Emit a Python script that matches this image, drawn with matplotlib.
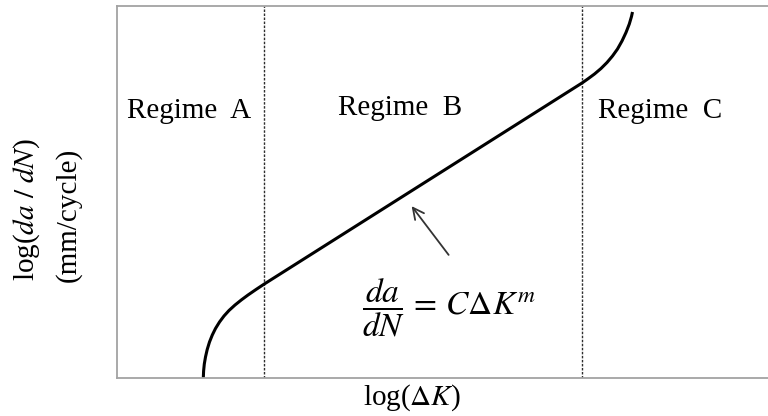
import matplotlib
matplotlib.use("Agg")
import matplotlib.pyplot as plt

plt.rcParams['font.family'] = ['Liberation Serif', 'DejaVu Serif']
plt.rcParams['mathtext.fontset'] = 'stix'

# Schematic crack-growth curve: log(ΔK) vs log(da/dN), arbitrary units 0..10
log_dk = [1.3257, 1.3303, 1.3410, 1.3594, 1.3856, 1.4209, 1.4639, 1.5131,
          1.5745, 1.6436, 1.7204, 1.8126, 1.9124, 2.0123, 2.1352, 2.2627,
          7.1429, 7.2350, 7.3349, 7.4347, 7.5269, 7.6114, 7.6882, 7.7573,
          7.8187, 7.8694, 7.9032, 7.9186]
log_dadn = [0.000, 0.188, 0.376, 0.565, 0.766, 0.968, 1.156, 1.331,
            1.505, 1.667, 1.815, 1.962, 2.102, 2.231, 2.379, 2.527,
            7.930, 8.043, 8.172, 8.320, 8.481, 8.656, 8.844, 9.059,
            9.288, 9.516, 9.718, 9.839]

# Regime boundaries on the log(ΔK) axis
boundaries = [2.26, 7.14]
regime_labels = ["Regime  A", "Regime  B", "Regime  C"]
regime_label_x = [0.154, 3.395, 7.389]
regime_label_y = [6.99, 7.07, 6.99]

fig = plt.figure(figsize=(7.68, 4.16), dpi=100)
ax = fig.add_axes([117 / 768, 38 / 416, 651 / 768, 372 / 416])
ax.set_xlim(0, 10)
ax.set_ylim(0, 10)
ax.set_xticks([])
ax.set_yticks([])
for side in ("left", "top", "bottom"):
    ax.spines[side].set_color("#a3a3a3")
    ax.spines[side].set_linewidth(1.3)
ax.spines["right"].set_visible(False)

for b in boundaries:
    ax.axvline(b, color="#2e2e2e", lw=1.0, linestyle=(0, (1.8, 1.1)))

ax.plot(log_dk, log_dadn, color="black", lw=2.2, solid_capstyle="butt",
        solid_joinstyle="round")

for lab, x, y in zip(regime_labels, regime_label_x, regime_label_y):
    ax.text(x, y, lab, fontsize=21, ha="left", va="baseline", color="black")

# Paris law annotation pointing at the linear region
ax.annotate("", xy=(4.50, 4.68), xytext=(5.12, 3.25),
            arrowprops=dict(arrowstyle="->", color="#333333", lw=1.3,
                            mutation_scale=20))
ax.text(3.77, 1.90, r"$\dfrac{da}{dN}\,=\,C\Delta K^m$", fontsize=24,
        ha="left", va="center", color="black")

fig.text(363 / 768, 1 - 382 / 416, r"log($\Delta K$)", fontsize=21,
         ha="left", va="top")
fig.text(27 / 768, 1 - 281 / 416, r"log($da\ /\ dN$)", fontsize=21,
         rotation=90, ha="center", va="bottom")
fig.text(68 / 768, 1 - 282 / 416, "(mm/cycle)", fontsize=21,
         rotation=90, ha="center", va="bottom")

fig.savefig("out.png", dpi=100)
